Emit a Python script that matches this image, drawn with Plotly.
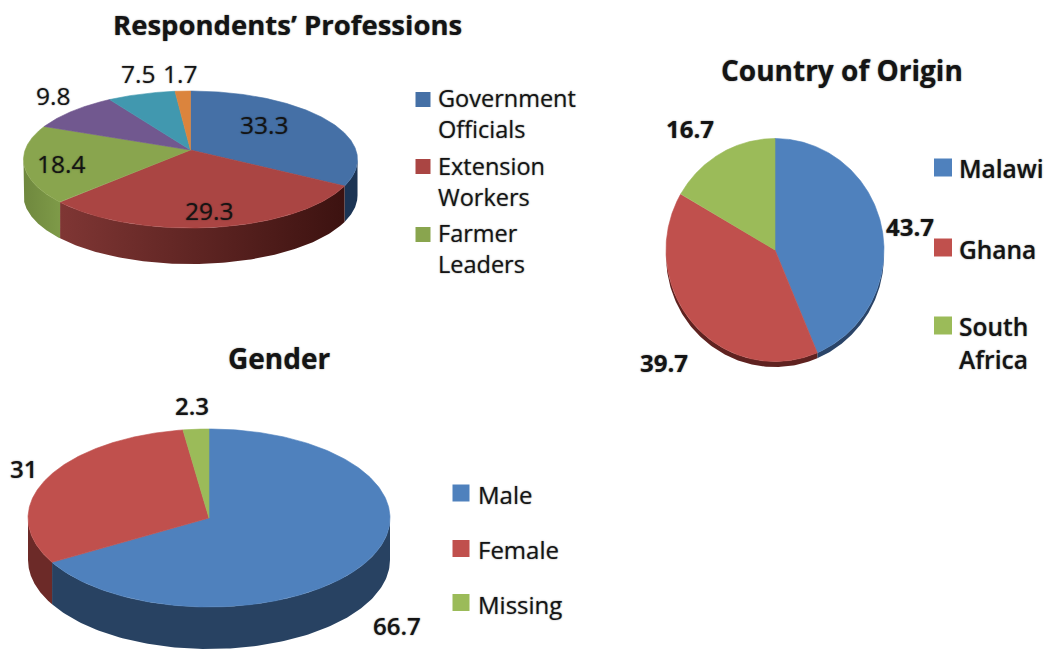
import numpy as np
import plotly.graph_objects as go

# ---------- data ----------
prof_values = [33.3, 29.3, 18.4, 9.8, 7.5, 1.7]
prof_names = ["Government Officials", "Extension Workers", "Farmer Leaders", "Group 4", "Group 5", "Group 6"]
legend_prof = ["Government<br>Officials", "Extension<br>Workers", "Farmer<br>Leaders"]
country_values = [43.7, 39.7, 16.7]
country_names = ["Malawi", "Ghana", "South Africa"]
legend_country = ["Malawi", "Ghana", "South", "Africa"]
gender_values = [66.7, 31, 2.3]
gender_names = ["Male", "Female", "Missing"]

# ---------- styles / geometry (not data) ----------
C_PROF = ["#4570A6", "#AA4543", "#89A54E", "#71588F", "#4198AF", "#DB843D"]
C_OFFICE = ["#4F81BD", "#C0504D", "#9BBB59"]
WALL_PROF = [("#1C3454", "#1C3454"), ("#7F3634", "#3C1210"), ("#6F883E", "#7E9A48")]
WALL_COUNTRY = [("#2A4468", "#2A4468"), ("#5F2220", "#5F2220"), ("#6F883E", "#6F883E")]
WALL_GENDER = [("#284262", "#284262"), ("#6C2A28", "#6C2A28"), ("#6F883E", "#6F883E")]
TEXT = "#141414"
FONT = "Open Sans"
SOFT = "0 0 1.5px rgba(0,0,0,0.55)"

# apex x, apex y, half width, half height, perspective, wall depth
G_PROF = (190.5, 150, 165.4, 67.2, 0.139, 36)
G_COUNTRY = (775, 250, 109, 111.5, 0.0, 5.5)
G_GENDER = (209, 518, 181, 89, 0.0, 42)


def project(theta, g):
    cx, cy, a, b, k, _ = g
    u, v = np.sin(theta), -np.cos(theta)
    d = 1 - k * v
    return cx + a * u / d, cy + b * v / d


def add_pie(fig, values, names, colors, walls, g):
    total = sum(values)
    edges = np.cumsum([0] + list(values)) / total * 2 * np.pi
    # the wall runs between the two outermost points of the projected rim
    front0 = np.arccos(-g[4])
    front1 = 2 * np.pi - front0
    # side walls first, so the top surface covers their back edges
    for i, (t0, t1) in enumerate(zip(edges[:-1], edges[1:])):
        lo, hi = max(t0, front0), min(t1, front1)
        if hi <= lo:
            continue
        t = np.linspace(lo, hi, 120)
        x, y = project(t, g)
        px = np.r_[x, x[::-1], x[0]]
        py = np.r_[y, y[::-1] + g[5], y[0]]
        fig.add_trace(go.Scatter(
            x=px, y=py, mode="lines", fill="toself", line=dict(width=0),
            fillgradient=dict(type="horizontal", colorscale=[[0, walls[i][0]], [1, walls[i][1]]]),
            hoverinfo="skip", showlegend=False))
    for i, (t0, t1) in enumerate(zip(edges[:-1], edges[1:])):
        t = np.linspace(t0, t1, 240)
        x, y = project(t, g)
        fig.add_trace(go.Scatter(
            x=np.r_[g[0], x, g[0]], y=np.r_[g[1], y, g[1]], mode="lines", fill="toself",
            fillcolor=colors[i], line=dict(width=0.6, color=colors[i]),
            name=names[i], text=f"{names[i]}: {values[i]}", hoverinfo="text", showlegend=False))


def note(fig, x, y, text, size, weight=400, anchor="center"):
    fig.add_annotation(x=x, y=y, xref="x", yref="y", text=text, showarrow=False,
                       xanchor=anchor, yanchor="middle", align="left" if anchor == "left" else "center",
                       font=dict(family=FONT, size=size, color=TEXT, weight=weight, shadow=SOFT))


def legend(fig, sx, sy, colors, size):
    fig.add_trace(go.Scatter(x=[sx] * len(sy), y=sy, mode="markers", hoverinfo="skip", showlegend=False,
                             marker=dict(symbol="square", size=size, color=colors[:len(sy)], line=dict(width=0))))


fig = go.Figure()
add_pie(fig, prof_values, prof_names, C_PROF, WALL_PROF, G_PROF)
add_pie(fig, country_values, country_names, C_OFFICE, WALL_COUNTRY, G_COUNTRY)
add_pie(fig, gender_values, gender_names, C_OFFICE, WALL_GENDER, G_GENDER)

# titles
note(fig, 287, 24, "Respondents’ Professions", 27.5, 700)
note(fig, 842, 70, "Country of Origin", 28, 700)
note(fig, 279, 358, "Gender", 28, 700)

# value labels
for v, (x, y) in zip(prof_values, [(264, 124), (209, 210), (61, 163), (53, 95), (138, 73), (180, 73)]):
    note(fig, x, y, str(v), 24.5)
for v, (x, y) in zip(country_values, [(910, 226), (664, 362), (690, 128)]):
    note(fig, x, y, str(v), 24, 700)
for v, (x, y) in zip(gender_values, [(397, 625), (23, 468), (192, 405)]):
    note(fig, x, y, str(v), 24, 600)

# legends
legend(fig, 423, [99.5, 166.5, 234.5], C_PROF, 15)
for t, y in zip(legend_prof, [113, 181, 248.5]):
    note(fig, 436, y, t, 23.5, 400, "left")
legend(fig, 943, [167.5, 247.5, 325.5], C_OFFICE, 18)
for t, y in zip(legend_country, [168, 249, 326, 359]):
    note(fig, 957, y, t, 24.5, 600, "left")
legend(fig, 461, [493, 548.5, 602.5], C_OFFICE, 17)
for t, y in zip(gender_names, [494, 549, 604]):
    note(fig, 476, y, t, 24, 500, "left")

fig.update_layout(
    width=1048, height=650, margin=dict(l=0, r=0, t=0, b=0), showlegend=False,
    paper_bgcolor="white", plot_bgcolor="white",
    xaxis=dict(range=[0, 1048], visible=False, fixedrange=True),
    yaxis=dict(range=[650, 0], visible=False, fixedrange=True),
)
fig.write_html("out.html", config=dict(displayModeBar=False),
               post_script="document.body.style.margin='0';")
